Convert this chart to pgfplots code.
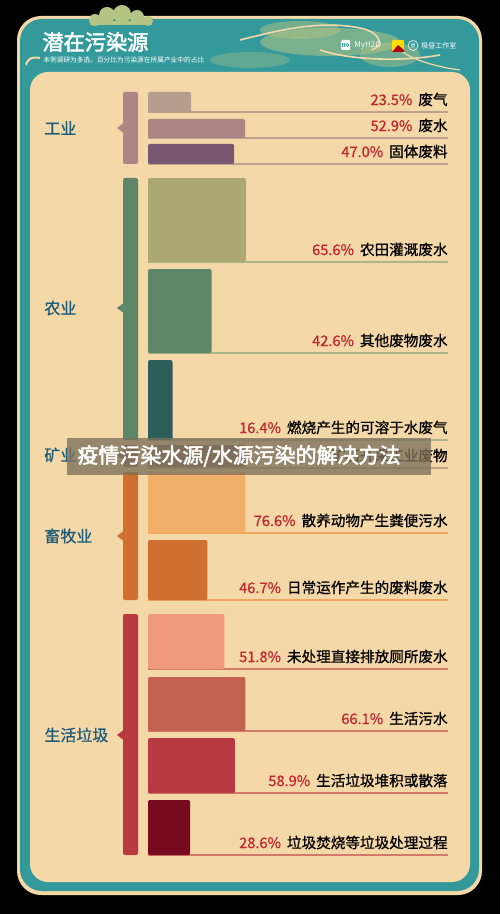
\documentclass[border=0pt]{standalone}
\usepackage{fontspec}
\setmainfont{Noto Sans CJK SC}[AutoFakeBold=2.5]
\newfontfamily\medfont{Noto Sans CJK SC}[FakeBold=0.9]
\usepackage{pgfplots}
\pgfplotsset{compat=1.18}
\definecolor{cream}{HTML}{F5D8A8}
\definecolor{tealf}{HTML}{33999B}
\definecolor{pctred}{HTML}{C1272D}
\definecolor{grplab}{HTML}{1D5B7A}
\definecolor{cloudg}{HTML}{B4C483}
% industry
\definecolor{indB}{HTML}{AD8585}
\definecolor{indA}{HTML}{B59E8E}
\definecolor{indC}{HTML}{775870}
\definecolor{indL}{HTML}{BFA08E}
% agriculture
\definecolor{agrB}{HTML}{5E876A}
\definecolor{agrA}{HTML}{ABA873}
\definecolor{agrC}{HTML}{2E5E59}
\definecolor{agrL}{HTML}{A9B58A}
% mining
\definecolor{minB}{HTML}{8A6E5A}
% livestock
\definecolor{livB}{HTML}{CF7030}
\definecolor{livA}{HTML}{F0AE68}
\definecolor{livL}{HTML}{EFA55E}
% domestic
\definecolor{domB}{HTML}{B83A40}
\definecolor{domA}{HTML}{F09A7C}
\definecolor{domC}{HTML}{C46252}
\definecolor{domD}{HTML}{780A20}
\definecolor{domL}{HTML}{D27A6A}
\definecolor{ovl}{HTML}{7C705B}

\newcommand\blabel[3]{\node[anchor=east,inner sep=0pt,font=\medfont\fontsize{7.3pt}{8pt}\selectfont] at (448,#1) {\textcolor{pctred}{#2}\hspace{3pt}#3};}
\newcommand\bracket[4]{% color, top, bottom, notch y
  \fill[#1,rounded corners=1pt] (123,#2) rectangle (138,#3);
  \fill[#1] (123.5,#4-5) -- (117,#4) -- (123.5,#4+5) -- cycle;}
\newcommand\glabel[2]{\node[anchor=west,inner sep=0pt,text=grplab,font=\medfont\fontsize{8pt}{9pt}\selectfont] at (44,#1) {#2};}
\newcommand\bline[2]{\draw[#1,line width=0.6pt] (148,#2) -- (448,#2);}

\pgfplotsset{grp/.style={at={(74pt,0pt)},anchor=north west,scale only axis,
  width=150pt,height=457pt,xmin=0,ymin=0,ymax=914,y dir=reverse,
  axis lines=none,ticks=none,xbar,bar shift=0pt,clip=false},
  bstyle/.style={fill=#1,draw=none,rounded corners=1pt}}

\begin{document}
\begin{tikzpicture}
\begin{scope}[x=0.5pt,y=-0.5pt]
\fill[black] (0,0) rectangle (500,914);
% frame
\fill[cream,rounded corners=12pt] (17,16) rectangle (482,895);
\fill[tealf,rounded corners=11pt] (20,19) rectangle (479,891);
% header decorations
\begin{scope}
\clip[rounded corners=11pt] (20,19) rectangle (479,72);
\fill[cloudg,opacity=0.55] (330,42) ellipse [x radius=70,y radius=14];
\fill[cloudg,opacity=0.5] (300,30) ellipse [x radius=40,y radius=9];
\fill[cloudg,opacity=0.45] (390,55) ellipse [x radius=30,y radius=12];
\fill[cloudg,opacity=0.35] (250,60) ellipse [x radius=40,y radius=8];
\draw[cream,line width=0.8pt] (240,40) .. controls (280,30) and (320,20) .. (360,28) .. controls (380,32) and (385,45) .. (372,50);
\draw[cream,line width=0.8pt] (320,50) .. controls (350,60) and (400,62) .. (440,55);
\draw[cream,line width=0.6pt] (400,50) .. controls (410,58) and (430,66) .. (460,70);
\draw[cream,line width=1pt] (24,72) .. controls (26,60) and (30,56) .. (40,58);
\end{scope}
\fill[cloudg] (95,20) circle (6) (107,15) circle (8) (122,14) circle (9) (137,17) circle (7) (148,21) circle (5);
\fill[cloudg] (90,21) rectangle (152,25);
% inner panel
\fill[cream,rounded corners=9pt] (30,72) rectangle (470,882);
% title
\node[anchor=west,inner sep=0pt,text=white,font=\fontsize{10.6pt}{12pt}\selectfont\bfseries] at (42,42) {潜在污染源};
\node[anchor=west,inner sep=0pt,text=white,font=\fontsize{3.35pt}{4pt}\selectfont] at (43,60) {本例调研为多选。百分比为污染源在所属产业中的占比};
% logos
\fill[white,rounded corners=0.5pt] (341,40) rectangle (350,50);
\node[inner sep=0pt,text=tealf,font=\fontsize{2.5pt}{3pt}\selectfont\bfseries] at (345.5,45) {HO};
\node[anchor=west,inner sep=0pt,text=white,font=\fontsize{4pt}{5pt}\selectfont] at (354,45.5) {MyH2O};
\fill[yellow!80!orange,rounded corners=0.5pt] (392,40) rectangle (404,52);
\fill[red!70!black] (392,52) -- (398,45) -- (404,50) -- (404,52) -- cycle;
\draw[white,line width=0.3pt] (413,45.5) circle (5);
\node[inner sep=0pt,text=white,font=\fontsize{2.5pt}{3pt}\selectfont] at (413,45.5) {昼};
\node[anchor=west,inner sep=0pt,text=white,font=\fontsize{3.5pt}{4pt}\selectfont] at (421,45.5) {极昼工作室};
% baselines
\bline{indL}{112} \bline{indL}{138} \bline{indL}{164}
\bline{agrL}{262} \bline{agrL}{353} \bline{agrL}{440}
\bline{minB!50!cream}{468}
\bline{livL}{533} \bline{livL}{600}
\bline{domL}{669} \bline{domL}{731} \bline{domL}{793} \bline{domL}{855}
% brackets
\bracket{indB}{92}{164}{128}
\bracket{agrB}{178}{440}{308}
\bracket{minB}{445}{467}{455}
\bracket{livB}{472}{600}{536}
\bracket{domB}{614}{855}{735}
% group labels
\glabel{128}{工业}
\glabel{308}{农业}
\glabel{455}{矿业}
\glabel{536}{畜牧业}
\glabel{735}{生活垃圾}
% bar labels
\blabel{99.5}{23.5\%}{废气}
\blabel{125.5}{52.9\%}{废水}
\blabel{151.5}{47.0\%}{固体废料}
\blabel{249.5}{65.6\%}{农田灌溉废水}
\blabel{340.5}{42.6\%}{其他废物废水}
\blabel{427.5}{16.4\%}{燃烧产生的可溶于水废气}
\blabel{455.5}{}{矿石开采工业废物}
\blabel{520.5}{76.6\%}{散养动物产生粪便污水}
\blabel{587.5}{46.7\%}{日常运作产生的废料废水}
\blabel{656.5}{51.8\%}{未处理直接排放厕所废水}
\blabel{718.5}{66.1\%}{生活污水}
\blabel{780.5}{58.9\%}{生活垃圾堆积或散落}
\blabel{842.5}{28.6\%}{垃圾焚烧等垃圾处理过程}
\end{scope}
% industry
\begin{axis}[grp,xmax=163.5]
\addplot[bstyle=indA,bar width=20] coordinates {(23.5,102)};
\addplot[bstyle=indB,bar width=19] coordinates {(52.9,128.5)};
\addplot[bstyle=indC,bar width=20] coordinates {(47.0,154)};
\end{axis}
% agriculture
\begin{axis}[grp,xmax=200.8]
\addplot[bstyle=agrA,bar width=84] coordinates {(65.6,220)};
\addplot[bstyle=agrB,bar width=84] coordinates {(42.6,311)};
\addplot[bstyle=agrC,bar width=80] coordinates {(16.4,400)};
\end{axis}
% mining (hidden under banner in the reference)
\begin{axis}[grp,xmax=306]
\addplot[bstyle=minB,bar width=22] coordinates {(100,456)};
\end{axis}
% livestock
\begin{axis}[grp,xmax=235.8]
\addplot[bstyle=livA,bar width=61] coordinates {(76.6,502.5)};
\addplot[bstyle=livB,bar width=60] coordinates {(46.7,570)};
\end{axis}
% domestic
\begin{axis}[grp,xmax=203.5]
\addplot[bstyle=domA,bar width=55] coordinates {(51.8,641.5)};
\addplot[bstyle=domC,bar width=54] coordinates {(66.1,704)};
\addplot[bstyle=domB,bar width=55] coordinates {(58.9,765.5)};
\addplot[bstyle=domD,bar width=55] coordinates {(28.6,827.5)};
\end{axis}
\begin{scope}[x=0.5pt,y=-0.5pt]
% overlay banner
\fill[ovl,opacity=0.78] (67,438) rectangle (431,475);
\node[anchor=west,inner sep=0pt,text=white,font=\fontsize{10.5pt}{12pt}\selectfont\bfseries] at (77,456) {疫情污染水源/水源污染的解决方法};
\end{scope}
\pgfresetboundingbox
\path[use as bounding box] (0pt,0pt) rectangle (250pt,-457pt);
\end{tikzpicture}
\end{document}
